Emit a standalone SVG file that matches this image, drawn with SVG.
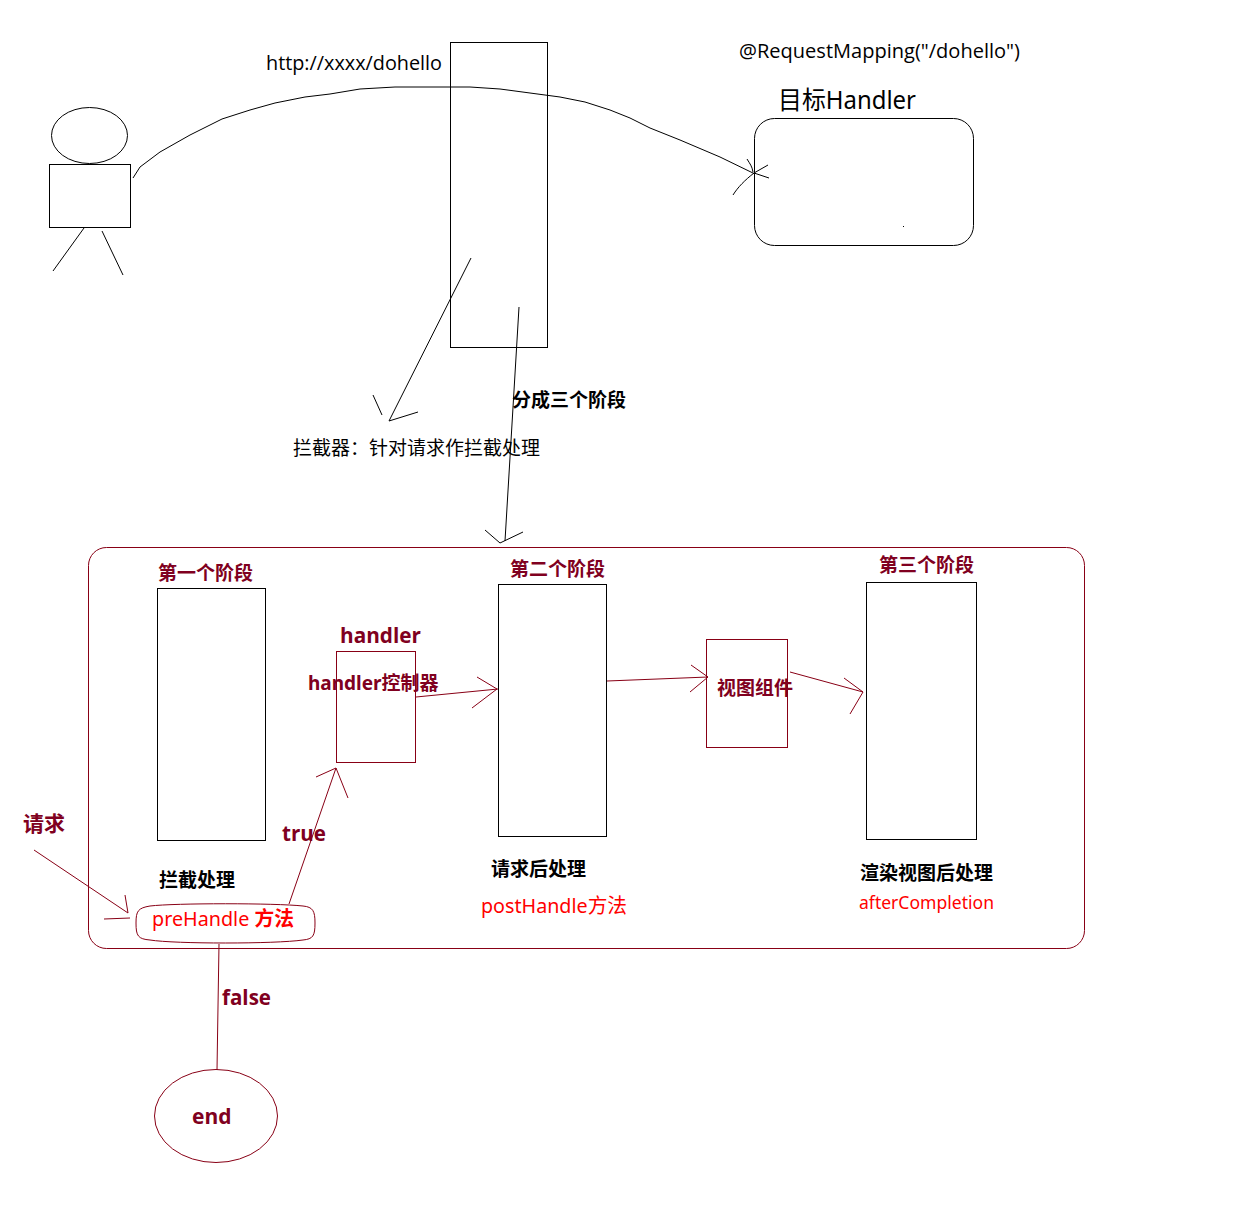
<svg xmlns="http://www.w3.org/2000/svg" width="1244" height="1220" viewBox="0 0 1244 1220">
<style>
text{font-family:"Open Sans","Noto Sans CJK SC",sans-serif;font-size:20px}
.cn{font-family:"Noto Sans","Noto Sans CJK SC",sans-serif}
.b{font-weight:700}
.k{fill:#000}.m{fill:#800020}.r{fill:#ff0000}
.bk{fill:none;stroke:#000;stroke-width:1}
.mr{fill:none;stroke:#880015;stroke-width:1}
</style>
<rect width="1244" height="1220" fill="#fff"/>
<g id="person"><ellipse class="bk" cx="89.500" cy="135.500" rx="38" ry="28"/><rect class="bk" x="49.500" y="164.500" width="81" height="63"/><path class="bk" d="M84 228L53 271M102 231L123 275"/></g>
<g id="filter"><rect class="bk" x="450.500" y="42.500" width="97" height="305"/></g>
<g id="target"><rect class="bk" x="754.500" y="118.500" width="219" height="127" rx="20"/><rect x="903" y="226" width="1" height="1" fill="#000"/><text class="cn" x="778" y="109" textLength="138" lengthAdjust="spacingAndGlyphs" style="font-size:25px">目标Handler</text></g>
<g id="label-url"><text x="266" y="70" textLength="176" lengthAdjust="spacingAndGlyphs">http://xxxx/dohello</text></g>
<g id="label-mapping"><text x="739" y="58" textLength="281" lengthAdjust="spacingAndGlyphs">@RequestMapping("/dohello")</text></g>
<g id="label-interceptor"><text class="cn" x="293" y="455" style="font-size:19px">拦截器：针对请求作拦截处理</text></g>
<g id="label-three"><text class="cn b" x="512" y="407" style="font-size:19px">分成三个阶段</text></g>
<g id="container"><rect class="mr" x="88.500" y="547.500" width="996" height="401" rx="18"/></g>
<g id="stage1"><rect class="bk" x="157.500" y="588.500" width="108" height="252"/><text class="cn b m" x="158" y="580" style="font-size:19px">第一个阶段</text><text class="cn b k" x="159" y="887" style="font-size:19px">拦截处理</text></g>
<g id="handler"><rect class="mr" x="336.500" y="651.500" width="79" height="111"/><text class="b m" x="340" y="643" textLength="81" lengthAdjust="spacingAndGlyphs" style="font-size:21px">handler</text><text class="cn b m" x="308" y="690" style="font-size:19px">handler控制器</text></g>
<g id="stage2"><rect class="bk" x="498.500" y="584.500" width="108" height="252"/><text class="cn b m" x="510" y="576" style="font-size:19px">第二个阶段</text><text class="cn b k" x="491" y="876" style="font-size:19px">请求后处理</text><text class="cn r" x="481" y="913" textLength="146" lengthAdjust="spacingAndGlyphs" style="font-size:20px">postHandle方法</text></g>
<g id="view"><rect class="mr" x="706.500" y="639.500" width="81" height="108"/><text class="cn b m" x="717" y="695" style="font-size:19px">视图组件</text></g>
<g id="stage3"><rect class="bk" x="866.500" y="582.500" width="110" height="257"/><text class="cn b m" x="879" y="572" style="font-size:19px">第三个阶段</text><text class="cn b k" x="860" y="880" style="font-size:19px">渲染视图后处理</text><text class="cn r" x="859" y="909" textLength="135" lengthAdjust="spacingAndGlyphs" style="font-size:18px">afterCompletion</text></g>
<g id="prehandle"><path class="mr" d="M136 923C136 911 138 908 150 906C175 903 275 903 303 906C313 907 315 911 315 923C315 936 313 939 303 940C275 944 175 944 150 940C138 939 136 936 136 923Z"/><text class="cn r" x="152" y="926" textLength="142" lengthAdjust="spacingAndGlyphs" style="font-size:20px">preHandle <tspan class="b">方法</tspan></text></g>
<g id="label-request"><text class="cn b m" x="23" y="831" style="font-size:21px">请求</text></g>
<g id="label-true"><text class="b m" x="282" y="841" textLength="44" lengthAdjust="spacingAndGlyphs" style="font-size:21px">true</text></g>
<g id="label-false"><text class="b m" x="222" y="1005" textLength="49" lengthAdjust="spacingAndGlyphs" style="font-size:21px">false</text></g>
<g id="end"><ellipse class="mr" cx="216" cy="1116" rx="61.500" ry="46.500"/><text class="b m" x="192" y="1124" style="font-size:21px">end</text></g>
<g id="connectors">
<path class="bk" d="M133 178L140 167L160 152L190 135L222 119L250 110L275 103L305 97L330 94L360 89L395 87L430 87L470 87L500 89L530 93L560 97L585 102L610 110L630 118L650 128L680 140L720 157L755 174"/>
<path class="bk" d="M747 159C750 164 752 166 753 172M768 165L754 173L769 178M754 173C745 180 738 187 733 195"/>
<path class="bk" d="M471 258L389 421M373 395L382 415M389 421L418 412"/>
<path class="bk" d="M519 307L505 541M485 530L500 543L523 532"/>
<path class="mr" d="M34 850L128 913M125 895L128 913M104 919L130 918"/>
<path class="mr" d="M289 904L336 768M316 777L336 768L348 798"/>
<path class="mr" d="M416 697L498 689M477 677L497 689L472 708"/>
<path class="mr" d="M607 681L708 677M691 665L708 677L690 692"/>
<path class="mr" d="M790 672L863 692M844 678L863 692L850 714"/>
<path class="mr" d="M219 944L217 1070"/>
</g>
</svg>
